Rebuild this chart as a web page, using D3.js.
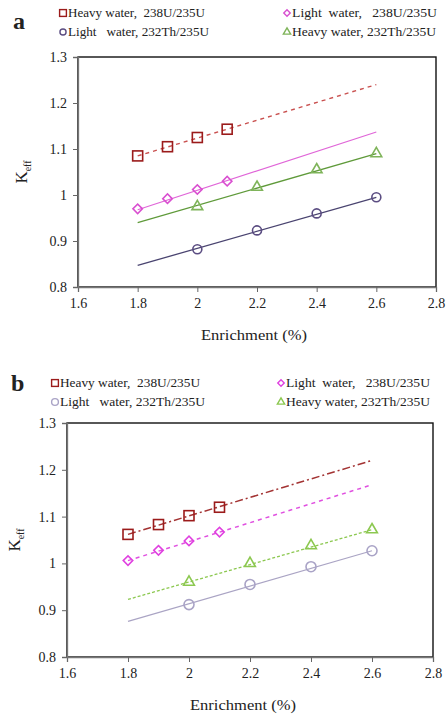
<!DOCTYPE html>
<html>
<head>
<meta charset="utf-8">
<script src="https://cdn.jsdelivr.net/npm/d3@7"></script>
<style>
  body { margin: 0; background: #fff; }
  svg { display: block; }
  svg text { font-family: "Liberation Serif", "DejaVu Serif"; fill: #222; }
</style>
</head>
<body>
<svg id="chart" width="447" height="717"></svg>
<script>
// ---- data ----
const xTicks = [1.6, 1.8, 2.0, 2.2, 2.4, 2.6, 2.8];
const yTicks = [0.8, 0.9, 1.0, 1.1, 1.2, 1.3];
const trendX = [1.8, 2.6];

const labels = [
  "Heavy water,  238U/235U",
  "Light  water,   238U/235U",
  "Light   water, 232Th/235U",
  "Heavy water, 232Th/235U"
];

// panel a
const aHeavyU_x = [1.8, 1.9, 2.0, 2.1];
const aHeavyU_y = [1.085, 1.105, 1.125, 1.143];
const aHeavyU_trend = [1.085, 1.240];
const aLightU_x = [1.8, 1.9, 2.0, 2.1];
const aLightU_y = [0.970, 0.992, 1.012, 1.030];
const aLightU_trend = [0.968, 1.137];
const aLightTh_x = [2.0, 2.2, 2.4, 2.6];
const aLightTh_y = [0.882, 0.923, 0.960, 0.995];
const aLightTh_trend = [0.847, 0.995];
const aHeavyTh_x = [2.0, 2.2, 2.4, 2.6];
const aHeavyTh_y = [0.975, 1.017, 1.055, 1.090];
const aHeavyTh_trend = [0.940, 1.090];

// panel b
const bHeavyU_x = [1.8, 1.9, 2.0, 2.1];
const bHeavyU_y = [1.062, 1.083, 1.102, 1.120];
const bHeavyU_trend = [1.062, 1.220];
const bLightU_x = [1.8, 1.9, 2.0, 2.1];
const bLightU_y = [1.006, 1.028, 1.048, 1.067];
const bLightU_trend = [1.006, 1.168];
const bLightTh_x = [2.0, 2.2, 2.4, 2.6];
const bLightTh_y = [0.912, 0.955, 0.993, 1.027];
const bLightTh_trend = [0.876, 1.027];
const bHeavyTh_x = [2.0, 2.2, 2.4, 2.6];
const bHeavyTh_y = [0.960, 1.000, 1.038, 1.072];
const bHeavyTh_trend = [0.923, 1.072];

const svg = d3.select("#chart");
const serif = "'Liberation Serif', 'DejaVu Serif'";

function drawMarker(sel, s, x, y) {
  const r = s.size / 2;
  if (s.shape === "square") {
    sel.append("rect")
      .attr("x", d => x(d[0]) - r).attr("y", d => y(d[1]) - r)
      .attr("width", s.size).attr("height", s.size)
      .attr("fill", "none").attr("stroke", s.markColor).attr("stroke-width", s.sw || 1.6);
  } else if (s.shape === "circle") {
    sel.append("circle")
      .attr("cx", d => x(d[0])).attr("cy", d => y(d[1])).attr("r", r)
      .attr("fill", "none").attr("stroke", s.markColor).attr("stroke-width", s.sw || 1.6);
  } else {
    const sym = s.shape === "diamond" ? d3.symbolSquare : d3.symbolTriangle;
    const area = s.shape === "diamond" ? s.size * s.size * 0.55 : s.size * s.size * 0.5;
    sel.append("path")
      .attr("d", d3.symbol().type(sym).size(area))
      .attr("transform", d => `translate(${x(d[0])},${y(d[1])})` + (s.shape === "diamond" ? " rotate(45)" : ""))
      .attr("fill", "none").attr("stroke", s.markColor).attr("stroke-width", s.sw || 1.6);
  }
}

const drawPanel = (p) => {
  const x = d3.scaleLinear().domain([1.6, 2.8]).range([p.left, p.right]);
  const y = d3.scaleLinear().domain([0.8, 1.3]).range([p.bottom, p.top]);
  const g = svg.append("g");

  // frame
  g.append("rect")
    .attr("x", p.left).attr("y", p.top)
    .attr("width", p.right - p.left).attr("height", p.bottom - p.top)
    .attr("fill", "none").attr("stroke", "#111").attr("stroke-width", 1.4);

  const fmt = d => d3.format("")(+d.toFixed(1));
  const xAxis = g.append("g")
    .attr("transform", `translate(0,${p.bottom})`)
    .call(d3.axisBottom(x).tickValues(xTicks).tickSize(5).tickPadding(6).tickFormat(fmt));
  const yAxis = g.append("g")
    .attr("transform", `translate(${p.left},0)`)
    .call(d3.axisLeft(y).tickValues(yTicks).tickSize(5).tickPadding(6).tickFormat(fmt));
  [xAxis, yAxis].forEach(ax => {
    ax.attr("font-family", serif);
    ax.select(".domain").attr("stroke", "#777").attr("stroke-width", 1.3);
    ax.selectAll(".tick line").attr("stroke", "#666");
    ax.selectAll(".tick text")
      .attr("font-size", 14).attr("fill", "#222");
  });

  // axis titles
  g.append("text")
    .attr("x", p.titleX).attr("y", p.bottom + 53)
    .attr("text-anchor", "middle").attr("font-size", 15)
    .attr("textLength", 106).attr("lengthAdjust", "spacingAndGlyphs")
    .text("Enrichment (%)");
  const yl = g.append("text")
    .attr("transform", `translate(${p.yLabelX},${(p.top + p.bottom) / 2}) rotate(-90)`)
    .attr("text-anchor", "middle").attr("font-size", 17);
  yl.append("tspan").text("K");
  yl.append("tspan").attr("font-size", 10).attr("dy", 4).text("eff");

  // panel letter
  g.append("text")
    .attr("x", p.letterX).attr("y", p.letterY)
    .attr("font-size", 24).attr("font-weight", "bold").attr("fill", "#111")
    .text(p.letter);

  const line = d3.line().x(d => x(d[0])).y(d => y(d[1]));

  p.series.forEach((s, i) => {
    // trend line
    g.append("path")
      .datum(trendX.map((v, k) => [v, s.trend[k]]))
      .attr("d", line)
      .attr("fill", "none")
      .attr("stroke", s.lineColor)
      .attr("stroke-width", s.lineWidth)
      .attr("stroke-dasharray", s.dash);

    const pts = s.xs.map((v, k) => [v, s.ys[k]]);
    drawMarker(g.selectAll(null).data(pts).enter(), s, x, y);

    // legend
    const lx = (i === 0 || i === 2) ? p.legLeft : p.legRight;
    const ly = (i < 2) ? p.legRow1 : p.legRow2;
    drawMarker(g.selectAll(null).data([[0, 0]]).enter(),
      Object.assign({}, s, { size: s.size * 0.68, sw: 1.4 }), () => lx, () => ly - 4);
    g.append("text")
      .attr("x", lx + 5).attr("y", ly)
      .attr("font-size", 12).attr("fill", "#333")
      .attr("xml:space", "preserve")
      .attr("textLength", p.legWidths[i]).attr("lengthAdjust", "spacingAndGlyphs")
      .text(labels[i]);
  });
};

drawPanel({
  letter: "a", letterX: 13, letterY: 29,
  left: 78, right: 436, top: 57, bottom: 287, yLabelX: 27, titleX: 254,
  legLeft: 63, legRight: 287, legRow1: 17, legRow2: 36,
  legWidths: [137, 145, 141, 144],
  series: [
    { xs: aHeavyU_x, ys: aHeavyU_y, trend: aHeavyU_trend, shape: "square", size: 10,
      markColor: "#9b1b1b", lineColor: "#c9504f", lineWidth: 1.4, dash: "4,4" },
    { xs: aLightU_x, ys: aLightU_y, trend: aLightU_trend, shape: "diamond", size: 9,
      markColor: "#d94fd0", lineColor: "#e066d8", lineWidth: 1.2, dash: null },
    { xs: aLightTh_x, ys: aLightTh_y, trend: aLightTh_trend, shape: "circle", size: 9,
      markColor: "#5b4d82", lineColor: "#4a4470", lineWidth: 1.3, dash: null },
    { xs: aHeavyTh_x, ys: aHeavyTh_y, trend: aHeavyTh_trend, shape: "triangle", size: 10,
      markColor: "#7fb45a", lineColor: "#5f9a3a", lineWidth: 1.3, dash: null }
  ]
});

drawPanel({
  letter: "b", letterX: 11, letterY: 391,
  left: 67, right: 433, top: 423, bottom: 657, yLabelX: 20, titleX: 243,
  legLeft: 55, legRight: 281, legRow1: 387, legRow2: 406,
  legWidths: [140, 144, 145, 144],
  series: [
    { xs: bHeavyU_x, ys: bHeavyU_y, trend: bHeavyU_trend, shape: "square", size: 10,
      markColor: "#9b1b1b", lineColor: "#a33333", lineWidth: 1.5, dash: "8,3,2,3" },
    { xs: bLightU_x, ys: bLightU_y, trend: bLightU_trend, shape: "diamond", size: 9,
      markColor: "#e040e0", lineColor: "#e050e0", lineWidth: 1.5, dash: "4,4" },
    { xs: bLightTh_x, ys: bLightTh_y, trend: bLightTh_trend, shape: "circle", size: 10,
      markColor: "#a9a3c6", lineColor: "#aaa4c4", lineWidth: 1.2, dash: null },
    { xs: bHeavyTh_x, ys: bHeavyTh_y, trend: bHeavyTh_trend, shape: "triangle", size: 10,
      markColor: "#8cc850", lineColor: "#8cc850", lineWidth: 1.3, dash: "3,2" }
  ]
});
</script>
</body>
</html>
